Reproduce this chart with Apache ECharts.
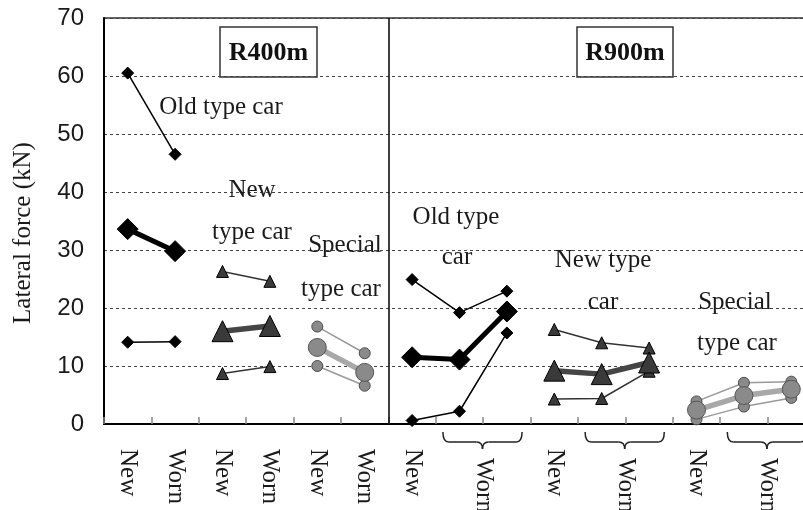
<!DOCTYPE html>
<html>
<head>
<meta charset="utf-8">
<script src="https://cdn.jsdelivr.net/npm/echarts@6/dist/echarts.min.js"></script>
<style>
  html, body { margin: 0; padding: 0; background: #fff; }
  #main { width: 803px; height: 510px; }
</style>
</head>
<body>
<div id="main"></div>
<script>
var chartDom = document.getElementById('main');
var myChart = echarts.init(chartDom);

// band i on the x axis spans i..i+1, points sit at the band centres
var oldX400 = [0.5, 1.5];
var newX400 = [2.5, 3.5];
var spX400 = [4.5, 5.5];
var oldX900 = [6.5, 7.5, 8.5];
var newX900 = [9.5, 10.5, 11.5];
var spX900 = [12.5, 13.5, 14.5];

// R400m
var old400Hi = [60.5, 46.5];
var old400Avg = [33.6, 29.8];
var old400Lo = [14.1, 14.2];
var new400Hi = [26.3, 24.6];
var new400Avg = [16.0, 16.9];
var new400Lo = [8.7, 9.9];
var sp400Hi = [16.8, 12.2];
var sp400Avg = [13.2, 8.9];
var sp400Lo = [10.0, 6.6];

// R900m
var old900Hi = [24.9, 19.2, 22.9];
var old900Avg = [11.5, 11.1, 19.4];
var old900Lo = [0.6, 2.2, 15.7];
var new900Hi = [16.3, 14.0, 13.1];
var new900Avg = [9.2, 8.6, 10.6];
var new900Lo = [4.3, 4.4, 9.1];
var sp900Hi = [3.9, 7.1, 7.3];
var sp900Avg = [2.4, 4.9, 6.0];
var sp900Lo = [0.8, 3.0, 4.5];

// tick labels under the axis
var labelPos = [0.5, 1.5, 2.5, 3.5, 4.5, 5.5, 6.5, 9.5, 12.5];
var labelText = ['New', 'Worn', 'New', 'Worn', 'New', 'Worn', 'New', 'New', 'New'];
var wornPos = [8, 11, 14];
var braceSpans = [[7.15, 8.82], [10.15, 11.82], [13.15, 14.82]];

var serif = '"Liberation Serif", "DejaVu Serif", serif';

function pts(xs, ys) {
    return xs.map(function (x, i) { return [x, ys[i]]; });
}

var styles = {
    oldThin: { symbol: 'diamond', size: 12, color: '#000', border: '#000', line: '#000', width: 1.5 },
    oldThick: { symbol: 'diamond', size: 21, color: '#000', border: '#000', line: '#000', width: 5 },
    newThin: { symbol: 'triangle', size: 12, color: '#3a3a3a', border: '#000', line: '#333', width: 1.5 },
    newThick: { symbol: 'triangle', size: 21, color: '#3a3a3a', border: '#000', line: '#454545', width: 5.5 },
    spThin: { symbol: 'circle', size: 11, color: '#8a8a8a', border: '#4a4a4a', line: '#999', width: 1.5 },
    spThick: { symbol: 'circle', size: 18, color: '#8a8a8a', border: '#555', line: '#a8a8a8', width: 5.5 }
};

function lineSeries(xs, ys, st) {
    var s = styles[st];
    return {
        type: 'line',
        data: pts(xs, ys),
        symbol: s.symbol,
        symbolSize: s.size,
        itemStyle: { color: s.color, borderColor: s.border, borderWidth: 1 },
        lineStyle: { color: s.line, width: s.width },
        animation: false,
        z: st.indexOf('Thick') > 0 ? 3 : 2
    };
}

function labelFor(list, texts) {
    return function (v) {
        for (var i = 0; i < list.length; i++) {
            if (Math.abs(list[i] - v) < 0.01) return texts[i];
        }
        return '';
    };
}

var series = [
    lineSeries(oldX400, old400Hi, 'oldThin'),
    lineSeries(oldX400, old400Lo, 'oldThin'),
    lineSeries(oldX400, old400Avg, 'oldThick'),
    lineSeries(newX400, new400Hi, 'newThin'),
    lineSeries(newX400, new400Lo, 'newThin'),
    lineSeries(newX400, new400Avg, 'newThick'),
    lineSeries(spX400, sp400Hi, 'spThin'),
    lineSeries(spX400, sp400Lo, 'spThin'),
    lineSeries(spX400, sp400Avg, 'spThick'),
    lineSeries(oldX900, old900Hi, 'oldThin'),
    lineSeries(oldX900, old900Lo, 'oldThin'),
    lineSeries(oldX900, old900Avg, 'oldThick'),
    lineSeries(newX900, new900Hi, 'newThin'),
    lineSeries(newX900, new900Lo, 'newThin'),
    lineSeries(newX900, new900Avg, 'newThick'),
    lineSeries(spX900, sp900Hi, 'spThin'),
    lineSeries(spX900, sp900Lo, 'spThin'),
    lineSeries(spX900, sp900Avg, 'spThick')
];

// divider between R400m and R900m
series[0].markLine = {
    silent: true,
    symbol: ['none', 'none'],
    label: { show: false },
    lineStyle: { color: '#000', width: 1.5, type: 'solid' },
    data: [{ xAxis: 6 }]
};

// braces over the "Worn" labels of R900m
series.push({
    type: 'custom',
    data: braceSpans,
    clip: false,
    silent: true,
    animation: false,
    renderItem: function (params, api) {
        var a = api.coord([api.value(0), 0]);
        var b = api.coord([api.value(1), 0]);
        var x1 = a[0], x2 = b[0], cx = (x1 + x2) / 2;
        var y0 = a[1] + 8, y1 = a[1] + 18, y2 = a[1] + 25;
        var st = { stroke: '#222', fill: null, lineWidth: 1.5 };
        return {
            type: 'group',
            children: [
                { type: 'bezierCurve', shape: { x1: x1, y1: y0, x2: x1 + 6, y2: y1, cpx1: x1, cpy1: y1 }, style: st },
                { type: 'line', shape: { x1: x1 + 6, y1: y1, x2: cx - 6, y2: y1 }, style: st },
                { type: 'bezierCurve', shape: { x1: cx - 6, y1: y1, x2: cx, y2: y2, cpx1: cx, cpy1: y1 }, style: st },
                { type: 'bezierCurve', shape: { x1: cx, y1: y2, x2: cx + 6, y2: y1, cpx1: cx, cpy1: y1 }, style: st },
                { type: 'line', shape: { x1: cx + 6, y1: y1, x2: x2 - 6, y2: y1 }, style: st },
                { type: 'bezierCurve', shape: { x1: x2 - 6, y1: y1, x2: x2, y2: y0, cpx1: x2, cpy1: y1 }, style: st }
            ]
        };
    }
});

function note(text, x, y) {
    return {
        type: 'text', x: x, y: y, z: 10,
        style: { text: text, font: '25px ' + serif, fill: '#1a1a1a', align: 'center', verticalAlign: 'middle' }
    };
}

function box(text, x, y, w, h) {
    return {
        type: 'group', z: 10,
        children: [
            { type: 'rect', shape: { x: x, y: y, width: w, height: h }, style: { fill: '#fff', stroke: '#333', lineWidth: 1.5 } },
            { type: 'text', x: x + w / 2, y: y + h / 2 + 1, style: { text: text, font: 'bold 26px ' + serif, fill: '#111', align: 'center', verticalAlign: 'middle' } }
        ]
    };
}

var labelAxis = {
    type: 'value', position: 'bottom', min: 0, max: 15, interval: 0.5,
    axisLine: { show: false }, axisTick: { show: false }, splitLine: { show: false }
};

var option = {
    animation: false,
    grid: {
        left: 104, right: -12, top: 18, bottom: 86,
        outerBoundsMode: 'none',
        show: true, borderColor: '#333', borderWidth: 1.5, backgroundColor: '#fff'
    },
    xAxis: [
        {
            type: 'value', position: 'bottom', min: 0, max: 15, interval: 1,
            axisLine: { show: true, lineStyle: { color: '#000', width: 2 } },
            axisTick: { show: true, inside: true, length: 7, lineStyle: { color: '#888', width: 1.5 } },
            axisLabel: { show: false },
            splitLine: { show: false }
        },
        Object.assign({}, labelAxis, {
            axisLabel: {
                rotate: -90, margin: 25, color: '#1a1a1a', fontFamily: serif, fontSize: 25,
                formatter: labelFor(labelPos, labelText)
            }
        }),
        Object.assign({}, labelAxis, {
            axisLabel: {
                rotate: -90, margin: 34, color: '#1a1a1a', fontFamily: serif, fontSize: 25,
                formatter: labelFor(wornPos, ['Worn', 'Worn', 'Worn'])
            }
        })
    ],
    yAxis: {
        type: 'value', min: 0, max: 70, interval: 10,
        name: 'Lateral force (kN)',
        nameLocation: 'middle',
        nameRotate: 90,
        nameGap: 68,
        nameTextStyle: { fontFamily: serif, fontSize: 25, color: '#1a1a1a', padding: [0, 24, 0, 0] },
        axisLine: { show: true, lineStyle: { color: '#000', width: 2 } },
        axisTick: { show: false },
        axisLabel: { margin: 20, color: '#1a1a1a', fontFamily: '"Liberation Sans", Arial, sans-serif', fontSize: 24 },
        splitLine: { show: true, lineStyle: { color: '#444', width: 1, type: [3, 3] } }
    },
    graphic: [
        box('R400m', 220, 27, 97, 50),
        box('R900m', 577, 27, 96, 50),
        note('Old type car', 221, 107),
        note('New', 252, 190),
        note('type car', 252, 232),
        note('Special', 345, 245),
        note('type car', 341, 289),
        note('Old type', 456, 217),
        note('car', 457, 257),
        note('New type', 603, 260),
        note('car', 603, 302),
        note('Special', 735, 302),
        note('type car', 737, 343)
    ],
    series: series
};

option && myChart.setOption(option);
</script>
</body>
</html>
